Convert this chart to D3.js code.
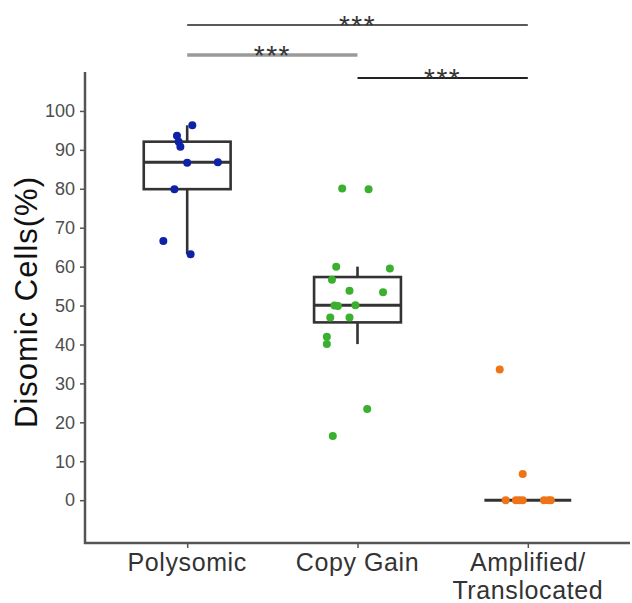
<!DOCTYPE html>
<html>
<head>
<meta charset="utf-8">
<script src="https://cdn.jsdelivr.net/npm/d3@7"></script>
<style>
  html, body { margin: 0; padding: 0; background: #fff; }
  svg { display: block; font-family: "Liberation Sans", Arial, Helvetica, sans-serif; }
</style>
</head>
<body>
<svg id="chart" width="632" height="603"></svg>
<script>
// ---- data ----
const categories = ["Polysomic", "Copy Gain", "Amplified/Translocated"];
const categoryLabelLines = [["Polysomic"], ["Copy Gain"], ["Amplified/", "Translocated"]];
const polysomicValues = [96.3, 93.6, 92.1, 90.8, 86.7, 86.8, 79.9, 66.6, 63.2];
const polysomicJitter = [0.03, -0.06, -0.05, -0.04, 0.0, 0.18, -0.075, -0.14, 0.02];
const copyGainValues = [80.1, 79.9, 60.0, 59.5, 56.6, 53.8, 53.4, 50.0, 49.9, 50.1, 46.9, 46.9, 42.0, 40.1, 23.4, 16.5];
const copyGainJitter = [-0.09, 0.065, -0.125, 0.19, -0.15, -0.047, 0.15, -0.135, -0.115, -0.012, -0.16, -0.047, -0.18, -0.18, 0.057, -0.145];
const amplifiedValues = [33.6, 6.7, 0, 0, 0, 0, 0, 0, 0];
const amplifiedJitter = [-0.165, -0.03, -0.13, -0.07, -0.05, -0.03, 0.095, 0.135, 0.12];
const seriesColors = ["#0d22a6", "#3bb02f", "#ef7317"];
const yTickValues = [0, 10, 20, 30, 40, 50, 60, 70, 80, 90, 100];
const yTitle = "Disomic Cells(%)";
const comparisons = [
  { from: 0, to: 2, label: "***" },
  { from: 0, to: 1, label: "***" },
  { from: 1, to: 2, label: "***" }
];

// ---- layout ----
const svg = d3.select("#chart");
const mLeft = 85, mRight = 630, mTop = 72, mBottom = 543;
const x = d3.scaleLinear().domain([0.4, 3.6]).range([mLeft, mRight]);
const y = d3.scaleLinear().domain([-11, 110]).range([mBottom, mTop]);
const boxWidth = 0.51;

const groups = [
  { values: polysomicValues, jitter: polysomicJitter },
  { values: copyGainValues, jitter: copyGainJitter },
  { values: amplifiedValues, jitter: amplifiedJitter }
];

// ---- axes ----
const axisColor = "#555";
const yAxis = d3.axisLeft(y).tickValues(yTickValues).tickSize(5).tickPadding(5).tickSizeOuter(0);
const gy = svg.append("g").attr("transform", `translate(${mLeft},0)`).call(yAxis);
gy.select(".domain").remove();
gy.selectAll(".tick line").attr("stroke", axisColor).attr("stroke-width", 1.5);
gy.selectAll(".tick text").attr("fill", "#4d4d4d").style("font-size", "18px");
svg.append("line").attr("x1", mLeft).attr("x2", mLeft).attr("y1", mTop).attr("y2", mBottom + 1)
  .attr("stroke", axisColor).attr("stroke-width", 2.5);

const xAxis = d3.axisBottom(x).tickValues([1, 2, 3]).tickSize(5).tickFormat("");
const gx = svg.append("g").attr("transform", `translate(0,${mBottom})`).call(xAxis);
gx.select(".domain").remove();
gx.selectAll(".tick line").attr("stroke", axisColor).attr("stroke-width", 1.5);
svg.append("line").attr("x1", mLeft - 1).attr("x2", mRight).attr("y1", mBottom).attr("y2", mBottom)
  .attr("stroke", axisColor).attr("stroke-width", 2.5);

categoryLabelLines.forEach((lines, i) => {
  const t = svg.append("text")
    .attr("x", x(i + 1)).attr("y", mBottom + 28)
    .attr("text-anchor", "middle")
    .attr("fill", "#333")
    .style("font-size", "25px")
    .style("letter-spacing", "0.6px");
  lines.forEach((ln, j) => {
    t.append("tspan").attr("x", x(i + 1)).attr("dy", j === 0 ? 0 : 28).text(ln);
  });
});

svg.append("text")
  .attr("transform", `translate(37,302) rotate(-90)`)
  .attr("text-anchor", "middle")
  .attr("fill", "#111")
  .style("font-size", "31px")
  .style("letter-spacing", "1px")
  .text(yTitle);

// ---- boxes ----
const boxColor = "#333";
groups.forEach((g, i) => {
  const s = g.values.slice().sort(d3.ascending);
  const q1 = d3.quantile(s, 0.25), med = d3.quantile(s, 0.5), q3 = d3.quantile(s, 0.75);
  const iqr = q3 - q1;
  const lo = d3.min(s.filter(v => v >= q1 - 1.5 * iqr));
  const hi = d3.max(s.filter(v => v <= q3 + 1.5 * iqr));
  const cx = i + 1;
  const bg = svg.append("g").attr("stroke", boxColor).attr("stroke-width", 2.6).attr("fill", "none");
  bg.append("line").attr("x1", x(cx)).attr("x2", x(cx)).attr("y1", y(q3)).attr("y2", y(hi));
  bg.append("line").attr("x1", x(cx)).attr("x2", x(cx)).attr("y1", y(q1)).attr("y2", y(lo));
  bg.append("rect")
    .attr("x", x(cx - boxWidth / 2)).attr("width", x(cx + boxWidth / 2) - x(cx - boxWidth / 2))
    .attr("y", y(q3)).attr("height", Math.max(0, y(q1) - y(q3)))
    .attr("fill", "#fff");
  bg.append("line").attr("x1", x(cx - boxWidth / 2)).attr("x2", x(cx + boxWidth / 2))
    .attr("y1", y(med)).attr("y2", y(med)).attr("stroke-width", 3);
});

// ---- points ----
groups.forEach((g, i) => {
  svg.append("g").selectAll("circle")
    .data(g.values.map((v, k) => ({ v, j: g.jitter[k] })))
    .join("circle")
    .attr("cx", d => x(i + 1 + d.j))
    .attr("cy", d => y(d.v))
    .attr("r", 4)
    .attr("fill", seriesColors[i]);
});

// ---- significance bars ----
const barYs = [25, 55, 78];
const barStyles = [
  { color: "#5a5a5a", width: 2.2 },
  { color: "#9a9a9a", width: 3.5 },
  { color: "#222", width: 2.2 }
];
comparisons.forEach((c, k) => {
  svg.append("line")
    .attr("x1", x(c.from + 1)).attr("x2", x(c.to + 1))
    .attr("y1", barYs[k]).attr("y2", barYs[k])
    .attr("stroke", barStyles[k].color).attr("stroke-width", barStyles[k].width);
  svg.append("text")
    .attr("x", (x(c.from + 1) + x(c.to + 1)) / 2)
    .attr("y", barYs[k] + 10)
    .attr("text-anchor", "middle")
    .attr("fill", "#333")
    .style("font-size", "28px")
    .style("letter-spacing", "1.5px")
    .text(c.label);
});
</script>
</body>
</html>
